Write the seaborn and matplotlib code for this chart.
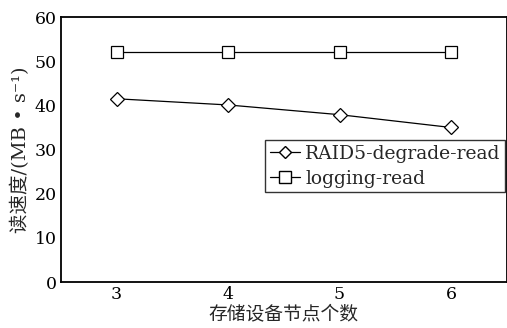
import matplotlib
matplotlib.use("Agg")
import matplotlib.pyplot as plt
import seaborn as sns
import pandas as pd
from matplotlib.lines import Line2D

nodes = [3, 4, 5, 6]
raid5_degrade_read = [41.5, 40.1, 37.9, 35.0]
logging_read = [52.0, 52.0, 52.0, 52.0]
series_names = ["RAID5-degrade-read", "logging-read"]
y_ticks = [0, 10, 20, 30, 40, 50, 60]
x_ticks = [3, 4, 5, 6]

sns.set_theme(style="white")
plt.rcParams['font.family'] = ['DejaVu Serif', 'Noto Sans CJK SC']

df = pd.DataFrame({
    "nodes": nodes * 2,
    "speed": raid5_degrade_read + logging_read,
    "series": [series_names[0]] * 4 + [series_names[1]] * 4,
})

fig, ax = plt.subplots(figsize=(5.07, 3.28), dpi=100)
fig.subplots_adjust(left=0.12, right=0.9995, top=0.948, bottom=0.14)

sns.lineplot(data=df, x="nodes", y="speed", hue="series", style="series",
             markers={series_names[0]: "D", series_names[1]: "s"},
             dashes=False, palette=["black", "black"], ax=ax, linewidth=0.9,
             markersize=8, markerfacecolor="white", markeredgecolor="black",
             markeredgewidth=0.9, legend=False)
lines = ax.get_lines()
lines[0].set_markersize(7)
lines[1].set_markersize(9)

ax.set_xlim(2.5, 6.5)
ax.set_ylim(0, 60)
ax.set_xticks(x_ticks)
ax.set_yticks(y_ticks)
ax.tick_params(direction="in", length=4, width=1, labelsize=12.5, colors="black")
ax.tick_params(axis="y", pad=3)
ax.tick_params(axis="x", pad=3)
for s in ax.spines.values():
    s.set_color("black")
    s.set_linewidth(1.3)

ax.set_xlabel("存储设备节点个数", fontsize=13.5, labelpad=0,
              family=['Noto Sans CJK SC', 'DejaVu Serif'])
ax.set_ylabel("读速度/(MB • s⁻¹)", fontsize=14, labelpad=3,
              family=['DejaVu Serif', 'Noto Sans CJK SC'])

handles = [
    Line2D([], [], color="black", lw=0.9, marker="D", markersize=6,
           markerfacecolor="white", markeredgecolor="black"),
    Line2D([], [], color="black", lw=0.9, marker="s", markersize=8,
           markerfacecolor="white", markeredgecolor="black"),
]
leg = ax.legend(handles, series_names, loc="upper left",
                bbox_to_anchor=(0.458, 0.535), fontsize=13.5, frameon=True,
                fancybox=False, edgecolor="black", handlelength=1.6,
                handletextpad=0.3, borderpad=0.25, labelspacing=0.35,
                borderaxespad=0)
leg.get_frame().set_linewidth(1.0)

fig.savefig("out.png", dpi=100)
